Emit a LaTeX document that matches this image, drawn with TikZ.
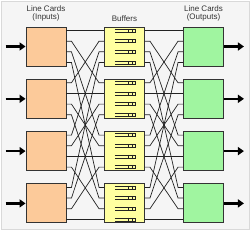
\documentclass[tikz,border=0pt]{standalone}
\usepackage{fontspec}
\setmainfont{Liberation Sans}
\usetikzlibrary{arrows.meta,calc}
\definecolor{peach}{HTML}{FCCA9A}
\definecolor{lemon}{HTML}{FFFFA0}
\definecolor{mint}{HTML}{A0F5A0}
\definecolor{wire}{HTML}{222222}
\tikzset{
  card/.style={rectangle,draw=black!80,line width=0.9pt,
    minimum width=40pt,minimum height=39pt,inner sep=0pt},
  inbox/.style={card,fill=peach},
  bufbox/.style={card,fill=lemon},
  outbox/.style={card,fill=mint},
  link/.style={line width=0.7pt,color=wire},
  feed/.style={-{Triangle[length=6pt,width=8pt]},line width=2.4pt},
  qline/.style={line width=0.6pt,color=wire},
  title/.style={font=\fontsize{8}{8.5}\selectfont,text=black!80,align=center},
}
\begin{document}
\begin{tikzpicture}[x=1pt,y=-1pt]
  \useasboundingbox (0,0) rectangle (250,231);
  \draw[fill=black!4,draw=black!15,line width=0.6pt] (1,1) rectangle (249,229);
  \node[title] (tin) at (46,13.5){Line Cards\\(Inputs)};
  \node[title] (tbuf) at (124.5,19){Buffers};
  \node[title] (tout) at (203.5,13.5){Line Cards\\(Outputs)};
  % cards, buffers and the feed arrows
  \foreach \i in {1,...,4}{
    \node[inbox] (in\i) at (46,{46.5+52.3*(\i-1)}){};
    \node[bufbox] (buf\i) at (124.5,{46.5+52.3*(\i-1)}){};
    \node[outbox] (out\i) at (203.5,{46.5+52.3*(\i-1)}){};
    \coordinate (src\i) at ($(in\i.west)+(-20,0)$);
    \coordinate (dst\i) at ($(out\i.east)+(20,0)$);
    \draw[feed] (src\i)--(in\i); \draw[feed] (out\i)--(dst\i);
    \foreach \j in {1,...,4}{
      \coordinate (inp\i\j) at ($(in\i.east)+(0,{-16+10.67*(\j-1)})$);
      \coordinate (bufw\i\j) at ($(buf\i.west)+(0,{-16+10.67*(\j-1)})$);
      \coordinate (bufe\i\j) at ($(buf\i.east)+(0,{-16+10.67*(\j-1)})$);
      \coordinate (outp\i\j) at ($(out\i.west)+(0,{-16+10.67*(\j-1)})$);
      % queue inside the buffer
      \draw[qline] ($(buf\i)+(-9.5,{-17.5+10.67*(\j-1)})$) -- ++(20.5,0)
        -- ++(0,3) -- ++(-20.5,0);
      \draw[qline] ($(buf\i)+(3.5,{-17.5+10.67*(\j-1)})$) -- ++(0,3);
      \draw[qline] ($(buf\i)+(7.5,{-17.5+10.67*(\j-1)})$) -- ++(0,3);
    }
  }
  % shuffle links
  \foreach \i in {1,...,4}{
    \foreach \j in {1,...,4}{
      \draw[link] (inp\i\j) -- ++(5,0) -- ($(bufw\j\i)+(-5,0)$) -- (bufw\j\i);
      \draw[link] (bufe\i\j) -- ++(5,0) -- ($(outp\j\i)+(-5,0)$) -- (outp\j\i);
    }
  }
\end{tikzpicture}
\end{document}
